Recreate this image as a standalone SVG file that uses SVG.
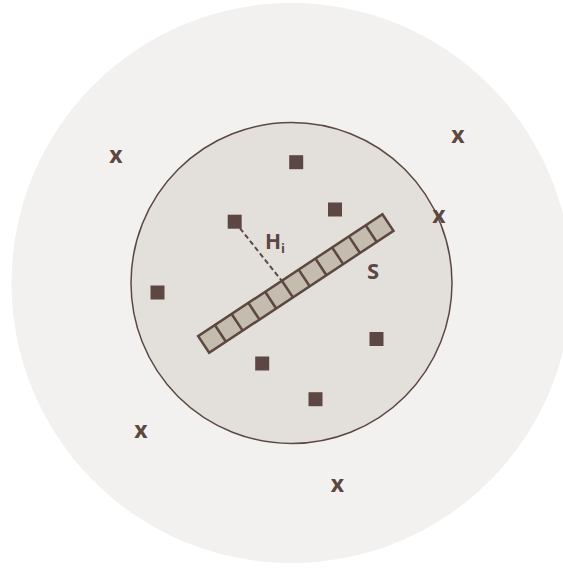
<svg xmlns="http://www.w3.org/2000/svg" width="563" height="568" viewBox="0 0 563 568">
<style>
.pt{fill:#5c4742}
.xm{font-family:"Open Sans","Liberation Sans",sans-serif;font-weight:700;font-size:23px;fill:#5c4742;text-anchor:middle}
.lbl{font-family:"Open Sans","Liberation Sans",sans-serif;font-weight:700;fill:#5c4742}
.cell{stroke:#5c4742;stroke-width:2.5}
</style>
<rect width="563" height="568" fill="#ffffff"/>
<g id="outer"><circle cx="291.5" cy="283" r="280" fill="#f2f1ef"/></g>
<g id="inner"><circle cx="291.5" cy="283" r="160.5" fill="#e3e0dc" stroke="#5c4742" stroke-width="1.5"/></g>
<g id="strip" transform="translate(295.8,283.5) rotate(-33.5)">
<rect x="-110.5" y="-10" width="221" height="20" fill="#c4bcae" stroke="#5c4742" stroke-width="2.5"/>
<line class="cell" x1="-90.41" y1="-10" x2="-90.41" y2="10"/>
<line class="cell" x1="-70.32" y1="-10" x2="-70.32" y2="10"/>
<line class="cell" x1="-50.23" y1="-10" x2="-50.23" y2="10"/>
<line class="cell" x1="-30.14" y1="-10" x2="-30.14" y2="10"/>
<line class="cell" x1="-10.05" y1="-10" x2="-10.05" y2="10"/>
<line class="cell" x1="10.05" y1="-10" x2="10.05" y2="10"/>
<line class="cell" x1="30.14" y1="-10" x2="30.14" y2="10"/>
<line class="cell" x1="50.23" y1="-10" x2="50.23" y2="10"/>
<line class="cell" x1="70.32" y1="-10" x2="70.32" y2="10"/>
<line class="cell" x1="90.41" y1="-10" x2="90.41" y2="10"/>
</g>
<g id="connectors">
<line x1="240" y1="228.3" x2="281.5" y2="280.5" stroke="#5c4742" stroke-width="2" stroke-dasharray="5,3"/>
</g>
<g id="points">
<rect class="pt" x="289.2" y="155.2" width="14" height="14"/>
<rect class="pt" x="328" y="202.5" width="14" height="14"/>
<rect class="pt" x="227.7" y="214.7" width="14" height="14"/>
<rect class="pt" x="150.5" y="285.5" width="14" height="14"/>
<rect class="pt" x="369.5" y="332" width="14" height="14"/>
<rect class="pt" x="255.2" y="356.5" width="14" height="14"/>
<rect class="pt" x="308.5" y="392.2" width="14" height="14"/>
</g>
<g id="outliers">
<text class="xm" x="115.8" y="163.3">x</text>
<text class="xm" x="458" y="143.3">x</text>
<text class="xm" x="439" y="223.3">x</text>
<text class="xm" x="141" y="437.7">x</text>
<text class="xm" x="337.3" y="491.7">x</text>
</g>
<g id="label-hi"><text class="lbl" x="265" y="249.3" font-size="21">H<tspan font-size="13" dy="4">i</tspan></text></g>
<g id="label-s"><text class="lbl" x="367" y="279.3" font-size="22">S</text></g>
</svg>
